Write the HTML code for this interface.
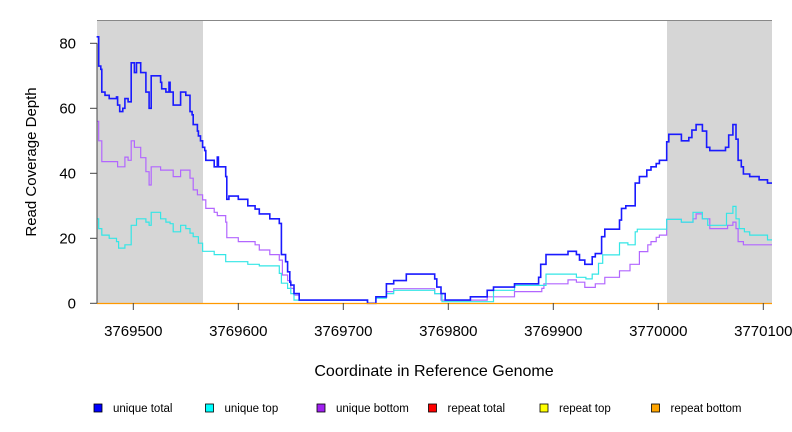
<!DOCTYPE html>
<html><head><meta charset="utf-8"><style>
body{margin:0;background:#fff;}
svg{display:block;font-family:"Liberation Sans",Arial,sans-serif;}
</style></head><body>
<svg id="chart" width="792" height="432">
<rect x="97" y="20" width="106" height="283" fill="#d6d6d6"/>
<rect x="667" y="20" width="105" height="283" fill="#d6d6d6"/>
<line x1="97" y1="20.5" x2="772" y2="20.5" stroke="#888"/>
<g id="series"></g>
<line x1="97" y1="303.5" x2="772" y2="303.5" stroke="#ff9900" stroke-width="1.2"/>
<g id="axes"></g>
<text x="434" y="376" font-size="16" text-anchor="middle">Coordinate in Reference Genome</text>
<text transform="translate(36,162) rotate(-90)" font-size="15" text-anchor="middle">Read Coverage Depth</text>
<g id="legend"></g>
</svg>
<script>
const xTicks=[3769500,3769600,3769700,3769800,3769900,3770000,3770100];
const yTicks=[0,20,40,60,80];
const totalX=[3769465,3769467,3769469,3769470,3769473,3769477,3769484,3769485,3769487,3769490,3769492,3769495,3769498,3769501,3769503,3769507,3769512,3769515,3769517,3769526,3769527,3769531,3769534,3769535,3769538,3769545,3769550,3769554,3769556,3769557,3769561,3769562,3769564,3769566,3769568,3769569,3769577,3769580,3769581,3769588,3769589,3769591,3769600,3769609,3769616,3769620,3769630,3769639,3769641,3769645,3769647,3769649,3769650,3769653,3769658,3769723,3769731,3769741,3769748,3769760,3769787,3769789,3769793,3769797,3769821,3769837,3769843,3769863,3769886,3769888,3769893,3769906,3769914,3769922,3769925,3769930,3769937,3769940,3769946,3769949,3769963,3769965,3769969,3769978,3769982,3769989,3769993,3769998,3770001,3770008,3770010,3770022,3770029,3770032,3770036,3770042,3770046,3770049,3770064,3770067,3770071,3770074,3770076,3770079,3770081,3770087,3770096,3770104];
const totalY=[82,73,72,65,64,63,63.5,61,59,60,63,62,74,71,74,71,65,60,70,68,66,65,68,65,61,65,64,59,58,55,53,51.5,50,48,47,44,42,45,42,39,32,33,32,30,29,27.5,26,24.6,15,12.8,9.7,6.5,5.6,3,1,0,2,6,7,9,7.5,5,3,1,2,4,5,6,8,12,15,15,16,15,13.3,12,14.3,15.3,20.5,22.8,25.6,29.2,30,37,39,41,42,43,44,49.7,52,50,51,53.3,55,53,48,47,48,51.8,55,50.5,44,42,39.8,39,38,37];
const topX=[3769465,3769467,3769470,3769477,3769484,3769486,3769492,3769498,3769503,3769512,3769515,3769517,3769526,3769531,3769535,3769538,3769545,3769550,3769554,3769557,3769562,3769566,3769577,3769588,3769609,3769620,3769639,3769641,3769647,3769650,3769653,3769723,3769731,3769741,3769748,3769787,3769794,3769843,3769863,3769893,3769906,3769922,3769931,3769937,3769943,3769947,3769963,3769971,3769978,3769980,3770008,3770022,3770033,3770042,3770047,3770065,3770071,3770074,3770077,3770082,3770087,3770096,3770104];
const topY=[26,23,21,20,19,17,18,24,26,25,24,28,26,25,24.5,22,24,23,21.6,20.5,18.5,16,15,12.8,12,11.5,9.2,6.2,4.6,3,1,0,1.6,3,4,3,0.5,4,5.5,9,9,8,7.5,9,12.3,14.9,18.6,18,22,22.8,25.8,25,28,26,24,27.7,29.8,26,23,22,21,21,19.5];
const botX=[3769465,3769467,3769470,3769485,3769492,3769495,3769498,3769501,3769507,3769512,3769515,3769517,3769526,3769534,3769538,3769545,3769554,3769557,3769561,3769566,3769569,3769577,3769580,3769588,3769589,3769600,3769616,3769620,3769630,3769639,3769642,3769647,3769650,3769653,3769658,3769723,3769731,3769741,3769748,3769787,3769793,3769837,3769863,3769889,3769891,3769914,3769922,3769930,3769940,3769949,3769963,3769973,3769982,3769990,3769993,3769998,3770001,3770008,3770022,3770033,3770036,3770042,3770049,3770066,3770071,3770074,3770076,3770081];
const botY=[56,50,43.6,42,45,44,50,48,44.8,40.5,36.4,42,41,41,39,41,38.5,34.9,33.4,31.8,29.2,28,27,25,20.2,19,18,16.4,15,13.3,8.7,7,4.6,2.5,1,0,2,3.6,4.5,3,1,2,3.6,4.6,6,7.2,6.5,4.9,6,8,10,12,15.9,18,19,20.3,21,25.8,25,26,27.5,26,23,24,25,23,19,18];
const xScale=v=>133.3+(v-3769500)*1.05;
const yScale=v=>303.3-v*3.25;
const NS="http://www.w3.org/2000/svg";
function stepPath(xs,ys){
  let d="M"+xScale(xs[0]).toFixed(1)+","+yScale(ys[0]).toFixed(1);
  for(let i=1;i<xs.length;i++){
    d+="H"+xScale(xs[i]).toFixed(1)+"V"+yScale(ys[i]).toFixed(1);
  }
  d+="H772";
  return d;
}
const sg=document.getElementById("series");
[[botX,botY,"#b266ff","unique-bottom-line"],[topX,topY,"#33e6e6","unique-top-line"],[totalX,totalY,"#1a1aff","unique-total-line"]].forEach(s=>{
  const p=document.createElementNS(NS,"path");
  p.setAttribute("d",stepPath(s[0],s[1]));
  p.setAttribute("fill","none");
  p.setAttribute("stroke",s[2]);
  p.setAttribute("stroke-width",s[3]==="unique-total-line"?"1.6":"1.2");
  
  
  sg.appendChild(p);
});
const ax=document.getElementById("axes");
const yl=document.createElementNS(NS,"line");
yl.setAttribute("x1","97");yl.setAttribute("x2","97");
yl.setAttribute("y1",yScale(80));yl.setAttribute("y2",yScale(0));
yl.setAttribute("stroke","#444");


ax.appendChild(yl);
yTicks.forEach(t=>{
  const l=document.createElementNS(NS,"line");
  l.setAttribute("x1","90");l.setAttribute("x2","97");
  l.setAttribute("y1",yScale(t));l.setAttribute("y2",yScale(t));
  l.setAttribute("stroke","#444");
  
  
  ax.appendChild(l);
  const tx=document.createElementNS(NS,"text");
  tx.setAttribute("x","76");tx.setAttribute("y",yScale(t)+5);
  tx.setAttribute("font-size","15");tx.setAttribute("text-anchor","end");
  tx.textContent=t;
  
  
  ax.appendChild(tx);
});
xTicks.forEach(t=>{
  const l=document.createElementNS(NS,"line");
  l.setAttribute("x1",xScale(t));l.setAttribute("x2",xScale(t));
  l.setAttribute("y1","303");l.setAttribute("y2","310");
  l.setAttribute("stroke","#444");
  
  
  ax.appendChild(l);
  const tx=document.createElementNS(NS,"text");
  tx.setAttribute("x",xScale(t));tx.setAttribute("y","336");
  tx.setAttribute("font-size","15");tx.setAttribute("text-anchor","middle");
  tx.textContent=t;
  
  
  ax.appendChild(tx);
});
const legNames=["unique total","unique top","unique bottom","repeat total","repeat top","repeat bottom"];
const legColors=["#0000ff","#00ffff","#a020f0","#ff0000","#ffff00","#ffa500"];
const lg=document.getElementById("legend");
legNames.forEach((n,i)=>{
  const x=94+i*111.5;
  const r=document.createElementNS(NS,"rect");
  r.setAttribute("x",x);r.setAttribute("y","404");r.setAttribute("width","8");r.setAttribute("height","8");
  r.setAttribute("fill",legColors[i]);r.setAttribute("stroke","#000");r.setAttribute("stroke-width","0.8");
  
  
  lg.appendChild(r);
  const tx=document.createElementNS(NS,"text");
  tx.setAttribute("x",x+19);tx.setAttribute("y","412");tx.setAttribute("font-size","11.5");
  tx.textContent=n;
  
  
  lg.appendChild(tx);
});
</script>
</body></html>
